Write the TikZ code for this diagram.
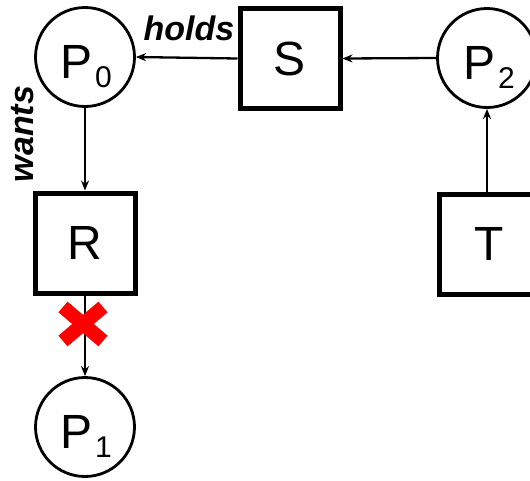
\documentclass[tikz,border=0pt]{standalone}
\usepackage{fontspec}
\setmainfont{Liberation Sans}
\usetikzlibrary{arrows.meta}
\begin{document}
\begin{tikzpicture}[x=1pt,y=-1pt,
  proc/.style={circle,draw,line width=2.8pt,minimum size=99pt,inner sep=0pt},
  res/.style={rectangle,draw,line width=5pt,minimum width=100pt,minimum height=100pt,inner sep=0pt,font=\fontsize{48}{48}\selectfont},
  plabel/.style={anchor=base,inner sep=0pt,font=\fontsize{48}{48}\selectfont},
  elabel/.style={inner sep=0pt,font=\fontsize{34}{34}\selectfont\bfseries\itshape},
  conn/.style={line width=2.3pt,-{Stealth[length=10pt,width=8pt]}},
  cross/.style={red,line width=14pt}]
\clip (0,0) rectangle (530,480);
\fill[white] (0,0) rectangle (530,480);
% processes
\node[proc] (P0) at (85,57) {};
\node[proc] (P1) at (85,427) {};
\node[proc] (P2) at (487,58) {};
\node[plabel] (P0t) at (86,78) {P\hspace{3pt}\raisebox{-9pt}{\fontsize{30}{30}\selectfont 0}};
\node[plabel] (P1t) at (86,448) {P\hspace{3pt}\raisebox{-9pt}{\fontsize{30}{30}\selectfont 1}};
\node[plabel] (P2t) at (489,79) {P\hspace{3pt}\raisebox{-9pt}{\fontsize{30}{30}\selectfont 2}};
% resources
\node[res] (S) at (290,58.5) {S};
\node[res] (R) at (85,243) {R};
\node[res] (T) at (489,244) {T};
% edges
\draw[conn] (S.west) -- (P0.east);
\draw[conn] (P2.west) -- (S.east);
\draw[conn] (P0.south) -- (R.north);
\draw[conn] (R.south) -- (P1.north);
\draw[conn] (T.north -| P2.south) -- (P2.south);
% labels
\node[elabel,anchor=base] (holds) at (189,40) {holds};
\node[elabel,anchor=base,rotate=90] (wants) at (33,134) {wants};
% red cross
\coordinate (X) at (83,324);
\draw[cross] ([shift={(-20,-17)}]X) -- ([shift={(20,17)}]X);
\draw[cross] ([shift={(-20,17)}]X) -- ([shift={(20,-17)}]X);
\end{tikzpicture}
\end{document}
